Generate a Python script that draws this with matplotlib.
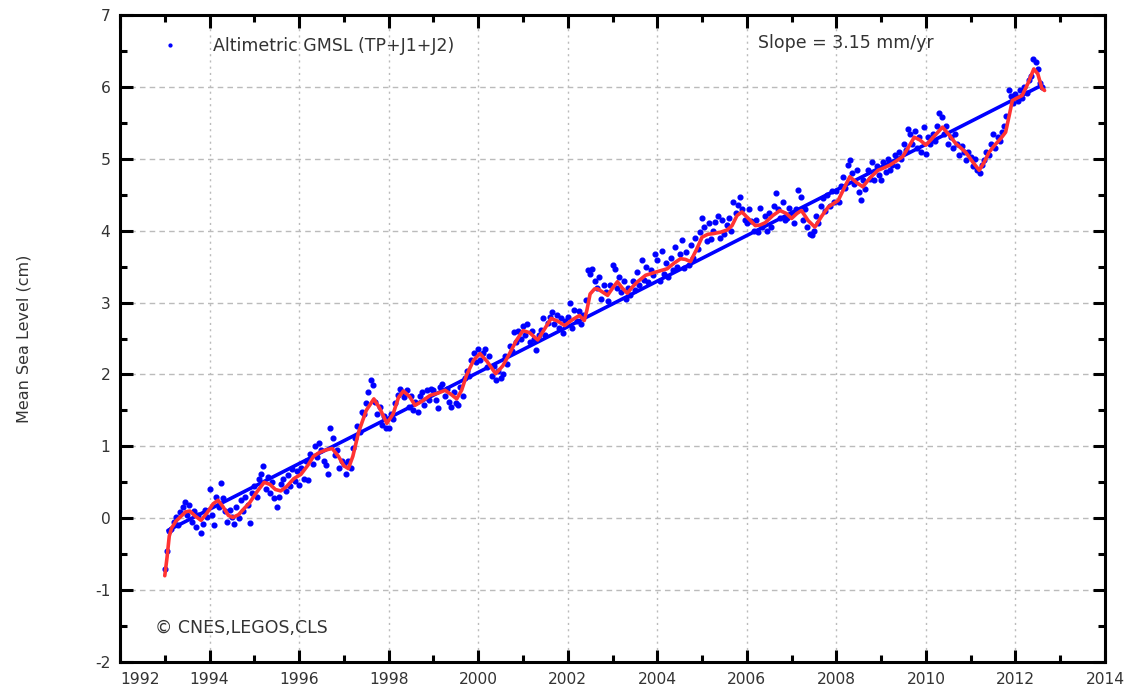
import numpy as np
import matplotlib
matplotlib.use("Agg")
import matplotlib.pyplot as plt
from matplotlib.ticker import MultipleLocator

# ---------------- data ----------------
# Altimetric GMSL points (cm), every 0.05 yr from 1993.00 to 2012.60
gmsl_1993 = [-0.70, -0.45, -0.18, -0.15, -0.05, 0.02, -0.10, 0.08, 0.15, 0.23, 0.05, 0.18, -0.05, 0.10, -0.12, 0.05, -0.21, -0.08, 0.12, 0.02]
gmsl_1994 = [0.40, 0.05, -0.10, 0.30, 0.15, 0.49, 0.28, 0.10, -0.05, 0.12, 0.02, -0.08, 0.15, 0.00, 0.25, 0.10, 0.30, 0.18, -0.07, 0.35]
gmsl_1995 = [0.45, 0.30, 0.55, 0.62, 0.72, 0.40, 0.58, 0.35, 0.50, 0.28, 0.16, 0.30, 0.48, 0.55, 0.38, 0.60, 0.45, 0.68, 0.52, 0.65]
gmsl_1996 = [0.46, 0.70, 0.55, 0.80, 0.53, 0.90, 0.75, 1.00, 0.85, 1.05, 0.95, 0.80, 0.74, 0.62, 1.25, 1.12, 0.88, 0.95, 0.70, 0.80]
gmsl_1997 = [0.75, 0.62, 0.80, 0.70, 0.98, 1.12, 1.28, 1.20, 1.48, 1.45, 1.60, 1.75, 1.92, 1.85, 1.62, 1.45, 1.55, 1.30, 1.42, 1.25]
gmsl_1998 = [1.25, 1.45, 1.38, 1.60, 1.72, 1.80, 1.75, 1.68, 1.78, 1.55, 1.70, 1.50, 1.62, 1.48, 1.70, 1.75, 1.58, 1.78, 1.65, 1.80]
gmsl_1999 = [1.78, 1.65, 1.53, 1.82, 1.87, 1.70, 1.80, 1.62, 1.55, 1.75, 1.60, 1.58, 1.82, 1.70, 1.95, 2.05, 1.98, 2.20, 2.30, 2.18]
gmsl_2000 = [2.35, 2.20, 2.30, 2.35, 2.10, 2.25, 1.98, 2.12, 1.92, 2.05, 1.95, 2.00, 2.25, 2.15, 2.40, 2.32, 2.59, 2.45, 2.60, 2.50]
gmsl_2001 = [2.67, 2.55, 2.70, 2.45, 2.60, 2.50, 2.34, 2.55, 2.62, 2.78, 2.55, 2.72, 2.80, 2.87, 2.70, 2.82, 2.65, 2.78, 2.57, 2.75]
gmsl_2002 = [2.80, 2.99, 2.65, 2.90, 2.75, 2.88, 2.70, 2.82, 3.03, 3.45, 3.40, 3.47, 3.30, 3.20, 3.35, 3.05, 3.25, 3.15, 3.02, 3.25]
gmsl_2003 = [3.52, 3.47, 3.20, 3.35, 3.15, 3.30, 3.05, 3.20, 3.10, 3.30, 3.18, 3.42, 3.25, 3.59, 3.32, 3.50, 3.28, 3.45, 3.38, 3.68]
gmsl_2004 = [3.59, 3.30, 3.72, 3.40, 3.55, 3.35, 3.62, 3.45, 3.77, 3.50, 3.68, 3.87, 3.48, 3.70, 3.52, 3.80, 3.62, 3.90, 3.75, 3.98]
gmsl_2005 = [4.17, 4.05, 3.85, 4.10, 3.88, 4.00, 4.12, 4.21, 3.90, 4.15, 3.95, 4.08, 4.18, 4.00, 4.40, 4.25, 4.36, 4.47, 4.30, 4.15]
gmsl_2006 = [4.10, 4.30, 4.13, 4.00, 4.15, 3.98, 4.31, 4.05, 4.20, 4.00, 4.25, 4.05, 4.35, 4.52, 4.30, 4.18, 4.40, 4.15, 4.17, 4.32]
gmsl_2007 = [4.25, 4.10, 4.30, 4.56, 4.47, 4.15, 4.30, 4.05, 3.95, 3.94, 4.00, 4.20, 4.10, 4.35, 4.45, 4.28, 4.50, 4.35, 4.55, 4.40]
gmsl_2008 = [4.55, 4.40, 4.62, 4.75, 4.60, 4.91, 4.98, 4.80, 4.65, 4.85, 4.54, 4.42, 4.70, 4.58, 4.85, 4.72, 4.95, 4.70, 4.90, 4.78]
gmsl_2009 = [4.70, 4.95, 4.82, 5.00, 4.85, 4.92, 5.05, 4.90, 5.10, 5.00, 5.20, 5.12, 5.42, 5.35, 5.20, 5.38, 5.15, 5.30, 5.10, 5.44]
gmsl_2010 = [5.07, 5.30, 5.20, 5.35, 5.25, 5.45, 5.63, 5.58, 5.35, 5.45, 5.21, 5.30, 5.15, 5.35, 5.20, 5.05, 5.18, 5.09, 4.98, 5.10]
gmsl_2011 = [5.02, 4.90, 5.00, 4.84, 4.80, 4.92, 4.98, 5.10, 5.05, 5.20, 5.35, 5.15, 5.30, 5.25, 5.37, 5.45, 5.60, 5.95, 5.88, 5.78]
gmsl_2012 = [5.90, 5.80, 5.95, 5.85, 6.00, 5.92, 6.10, 6.15, 6.39, 6.35, 6.25, 6.05, 6.00]

gmsl_start = 1993.0
gmsl_step = 0.05

# Smoothed curve (red)
smooth_years = [1993.00, 1993.05, 1993.10, 1993.15, 1993.25, 1993.35, 1993.47, 1993.56, 1993.68, 1993.81,
                1993.95, 1994.08, 1994.19, 1994.30, 1994.42, 1994.52, 1994.65, 1994.78, 1994.89, 1995.05,
                1995.22, 1995.35, 1995.47, 1995.59, 1995.72, 1995.88, 1996.04, 1996.20, 1996.32, 1996.44,
                1996.60, 1996.74, 1996.88, 1997.00, 1997.10, 1997.20, 1997.33, 1997.50, 1997.67, 1997.80,
                1997.96, 1998.10, 1998.22, 1998.33, 1998.47, 1998.59, 1998.75, 1998.93, 1999.10, 1999.26,
                1999.40, 1999.52, 1999.63, 1999.74, 1999.90, 2000.04, 2000.20, 2000.39, 2000.55, 2000.70,
                2000.85, 2001.00, 2001.15, 2001.33, 2001.48, 2001.63, 2001.78, 2001.93, 2002.10, 2002.26,
                2002.37, 2002.43, 2002.50, 2002.60, 2002.67, 2002.89, 2003.00, 2003.11, 2003.22, 2003.33,
                2003.45, 2003.56, 2003.74, 2004.00, 2004.22, 2004.38, 2004.52, 2004.63, 2004.74, 2004.87,
                2005.00, 2005.13, 2005.26, 2005.42, 2005.56, 2005.67, 2005.78, 2005.89, 2006.05, 2006.19,
                2006.30, 2006.41, 2006.58, 2006.74, 2006.88, 2007.00, 2007.12, 2007.22, 2007.37, 2007.52,
                2007.67, 2007.82, 2007.94, 2008.04, 2008.18, 2008.30, 2008.45, 2008.59, 2008.76, 2008.93,
                2009.05, 2009.19, 2009.34, 2009.48, 2009.62, 2009.74, 2009.87, 2010.00, 2010.18, 2010.37,
                2010.52, 2010.67, 2010.78, 2010.89, 2011.04, 2011.19, 2011.30, 2011.41, 2011.55, 2011.67,
                2011.78, 2011.86, 2011.93, 2012.05, 2012.15, 2012.28, 2012.41, 2012.50, 2012.59, 2012.65]
smooth_vals = [-0.80, -0.55, -0.25, -0.14, -0.04, 0.02, 0.09, 0.10, 0.03, -0.03,
               0.08, 0.20, 0.25, 0.16, 0.04, 0.01, 0.05, 0.14, 0.21, 0.36,
               0.50, 0.47, 0.40, 0.38, 0.44, 0.55, 0.61, 0.74, 0.86, 0.91,
               0.95, 0.97, 0.86, 0.73, 0.69, 0.86, 1.20, 1.50, 1.66, 1.53,
               1.32, 1.45, 1.68, 1.77, 1.69, 1.57, 1.63, 1.71, 1.74, 1.78,
               1.72, 1.66, 1.78, 1.99, 2.20, 2.29, 2.18, 2.01, 2.12, 2.29,
               2.47, 2.61, 2.58, 2.48, 2.63, 2.78, 2.74, 2.68, 2.76, 2.82,
               2.75, 2.90, 3.12, 3.19, 3.19, 3.10, 3.20, 3.29, 3.20, 3.13,
               3.22, 3.29, 3.38, 3.43, 3.47, 3.55, 3.61, 3.60, 3.57, 3.73,
               3.91, 3.95, 3.96, 3.98, 4.01, 4.07, 4.21, 4.26, 4.16, 4.07,
               4.08, 4.11, 4.21, 4.28, 4.24, 4.17, 4.24, 4.28, 4.14, 4.05,
               4.20, 4.33, 4.38, 4.42, 4.60, 4.75, 4.67, 4.61, 4.74, 4.84,
               4.87, 4.91, 4.97, 5.03, 5.17, 5.30, 5.26, 5.19, 5.31, 5.44,
               5.33, 5.21, 5.15, 5.09, 4.96, 4.84, 4.95, 5.09, 5.20, 5.28,
               5.37, 5.60, 5.81, 5.85, 5.88, 6.05, 6.25, 6.18, 5.98, 5.95]

# Linear trend (3.15 mm/yr)
trend_years = [1993.07, 2012.58]
trend_vals = [-0.17, 6.02]

legend_label = "Altimetric GMSL (TP+J1+J2)"
slope_text = "Slope = 3.15 mm/yr"
credit_text = "\u00a9 CNES,LEGOS,CLS"
y_label = "Mean Sea Level (cm)"
x_ticks = list(range(1992, 2015, 2))
y_ticks = list(range(-2, 8, 1))

# ---------------- figure ----------------
gmsl = (gmsl_1993 + gmsl_1994 + gmsl_1995 + gmsl_1996 + gmsl_1997 + gmsl_1998 + gmsl_1999 +
        gmsl_2000 + gmsl_2001 + gmsl_2002 + gmsl_2003 + gmsl_2004 + gmsl_2005 + gmsl_2006 +
        gmsl_2007 + gmsl_2008 + gmsl_2009 + gmsl_2010 + gmsl_2011 + gmsl_2012)
gmsl_years = np.round(gmsl_start + gmsl_step * np.arange(len(gmsl)), 3)

txt = "#333333"
plt.rcParams['font.family'] = ['DejaVu Sans']
plt.rcParams['axes.unicode_minus'] = False

fig = plt.figure(figsize=(11.32, 6.96), dpi=100)
ax = fig.add_axes([120 / 1132, 1 - 662 / 696, 985 / 1132, 647 / 696])

ax.set_xlim(1992, 2014)
ax.set_ylim(-2, 7)

ax.grid(True, which='major', axis='y', color='#bbbbbb', linestyle=(0, (4, 3)), linewidth=1.0)
ax.grid(True, which='major', axis='x', color='#bbbbbb', linestyle=(0, (1.5, 3)), linewidth=1.0)
ax.set_axisbelow(True)

dots, = ax.plot(gmsl_years, gmsl, linestyle='none', marker='o', ms=3.4,
                color='#0000ff', mec='#0000ff', zorder=2, label=legend_label)
ax.plot(trend_years, trend_vals, color='#0000ff', lw=2.6, zorder=3, solid_capstyle='round')
ax.plot(smooth_years, smooth_vals, color='#ff3333', lw=2.6, zorder=4,
        solid_joinstyle='round', solid_capstyle='round')

ax.set_xticks(x_ticks)
ax.set_yticks(y_ticks)
ax.xaxis.set_minor_locator(MultipleLocator(1))
ax.yaxis.set_minor_locator(MultipleLocator(0.5))
ax.tick_params(which='both', direction='in', top=True, right=True, width=2.2, colors='black',
               labelcolor=txt, labelsize=11.2)
ax.tick_params(which='major', length=9, pad=7)
ax.tick_params(which='minor', length=5)
for s in ax.spines.values():
    s.set_linewidth(2.2)
xlabels = ax.get_xticklabels()
xlabels[0].set_horizontalalignment('left')

ax.set_ylabel(y_label, fontsize=11.5, color=txt, labelpad=46)

leg = ax.legend(handles=[dots], loc='upper left', bbox_to_anchor=(0.012, 0.99), frameon=False,
                handlelength=2.6, handletextpad=1.2, markerscale=0.6, fontsize=12.5,
                labelcolor=txt)

ax.text(0.648, 0.957, slope_text, transform=ax.transAxes, fontsize=12.5, color=txt,
        va='center', ha='left')
ax.text(0.036, 0.053, credit_text, transform=ax.transAxes, fontsize=12.5, color=txt,
        va='center', ha='left')

fig.savefig("out.png", dpi=100)
